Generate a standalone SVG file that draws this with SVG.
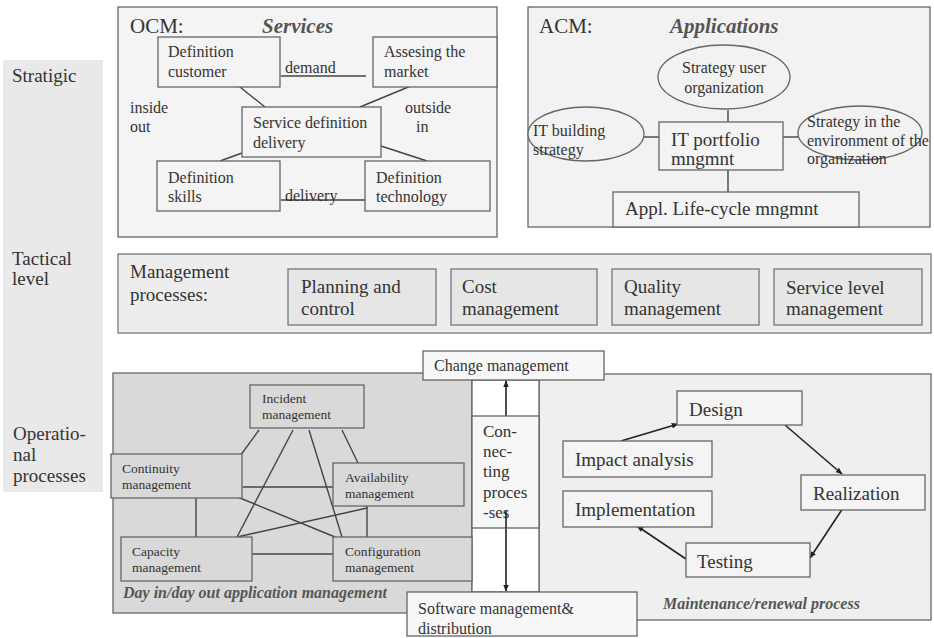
<svg xmlns="http://www.w3.org/2000/svg" width="934" height="638" viewBox="0 0 934 638">
  <defs>
    <marker id="arrow" viewBox="0 0 10 10" refX="9" refY="5" markerWidth="7" markerHeight="7" orient="auto-start-reverse" markerUnits="userSpaceOnUse">
      <path d="M0,1 L10,5 L0,9 Z" fill="#222"/>
    </marker>
    <style>
      text { fill: #333; }
      .t16 { font-size: 16px; }
      .t19 { font-size: 19px; }
      .t13 { font-size: 13.5px; }
      .t17 { font-size: 17px; }
      .title { font-size: 21px; }
      .ital { font-style: italic; font-weight: bold; fill: #555; }
      .box { fill: #f4f4f4; stroke: #666; stroke-width: 1.3; }
      .box2 { fill: #e6e6e6; stroke: #777; stroke-width: 1.3; }
      .boxd { fill: #d9d9d9; stroke: #666; stroke-width: 1.3; }
      .ell { fill: #f2f2f2; stroke: #666; stroke-width: 1.3; }
      .ln { stroke: #444; stroke-width: 1.4; fill: none; }
      .arr { stroke: #222; stroke-width: 1.6; fill: none; marker-end: url(#arrow); }
    </style>
  </defs>

  <rect width="934" height="638" fill="#ffffff"/>

  <g font-family="'Liberation Serif', 'DejaVu Serif', serif">

  <!-- level column -->
  <g id="levels">
    <rect x="3" y="60" width="100" height="432" fill="#e9e9e9"/>
    <text class="t19" x="12" y="82">Stratigic</text>
    <text class="t19" x="12" y="265">Tactical</text>
    <text class="t19" x="12" y="285">level</text>
    <text class="t19" x="13" y="440">Operatio-</text>
    <text class="t19" x="13" y="461">nal</text>
    <text class="t19" x="13" y="482">processes</text>
  </g>

  <!-- OCM frame -->
  <g id="ocm">
    <rect x="118" y="7" width="379" height="230" fill="#f4f4f4" stroke="#666" stroke-width="1.3"/>
    <text class="title" x="130" y="33">OCM:</text>
    <text class="title ital" x="262" y="33">Services</text>
    <text class="t16" x="130" y="113">inside</text>
    <text class="t16" x="130" y="132">out</text>
    <text class="t16" x="405" y="113">outside</text>
    <text class="t16" x="416" y="132">in</text>
  </g>

  <!-- ACM frame -->
  <g id="acm">
    <rect x="528" y="7" width="402" height="220" fill="#f2f2f2" stroke="#666" stroke-width="1.3"/>
    <text class="title" x="539" y="33">ACM:</text>
    <text class="title ital" x="670" y="33">Applications</text>
  </g>

  <!-- tactical frame -->
  <g id="tactical">
    <rect x="118" y="254" width="813" height="79" fill="#ededed" stroke="#777" stroke-width="1.3"/>
    <text class="t19" x="130" y="278">Management</text>
    <text class="t19" x="130" y="301">processes:</text>
  </g>

  <!-- operational frames -->
  <g id="day-in-day-out">
    <rect x="113" y="373" width="359" height="240" fill="#d9d9d9" stroke="#666" stroke-width="1.3"/>
    <text class="t16 ital" x="123" y="598">Day in/day out application management</text>
  </g>
  <g id="maintenance">
    <rect x="539" y="374" width="392" height="246" fill="#efefef" stroke="#666" stroke-width="1.3"/>
    <text class="t16 ital" x="663" y="609">Maintenance/renewal process</text>
  </g>
  <g id="connecting-strip">
    <rect x="472" y="380" width="67" height="212" fill="#ffffff" stroke="#666" stroke-width="1.3"/>
  </g>

  <!-- connectors -->
  <g id="connectors">
    <!-- OCM -->
    <line class="ln" x1="281" y1="76" x2="366" y2="76"/>
    <line class="ln" x1="235" y1="83" x2="265" y2="107"/>
    <line class="ln" x1="418" y1="83" x2="360" y2="107"/>
    <line class="ln" x1="242" y1="153" x2="220" y2="161"/>
    <line class="ln" x1="381" y1="146" x2="427" y2="161"/>
    <line class="ln" x1="281" y1="200" x2="365" y2="200"/>
    <!-- ACM -->
    <line class="ln" x1="728" y1="110" x2="728" y2="122"/>
    <line class="ln" x1="644" y1="137" x2="659" y2="137"/>
    <line class="ln" x1="783" y1="137" x2="798" y2="137"/>
    <line class="ln" x1="728" y1="170" x2="728" y2="192"/>
    <!-- day in/day out -->
    <line class="ln" x1="259" y1="430" x2="235" y2="463"/>
    <line class="ln" x1="342" y1="430" x2="358" y2="463"/>
    <line class="ln" x1="293" y1="430" x2="237" y2="537"/>
    <line class="ln" x1="309" y1="430" x2="342" y2="537"/>
    <line class="ln" x1="243" y1="487" x2="333" y2="487"/>
    <line class="ln" x1="235" y1="496" x2="335" y2="537"/>
    <line class="ln" x1="237" y1="537" x2="367" y2="508"/>
    <line class="ln" x1="196" y1="498" x2="196" y2="537"/>
    <line class="ln" x1="367" y1="506" x2="367" y2="537"/>
    <line class="ln" x1="252" y1="554" x2="333" y2="554"/>
    <!-- connecting processes -->
    <line class="arr" x1="506" y1="416" x2="506" y2="381"/>
    <line class="arr" x1="506" y1="511" x2="506" y2="591"/>
    <!-- maintenance cycle -->
    <line class="arr" x1="621" y1="441" x2="678" y2="424"/>
    <line class="arr" x1="785" y1="425" x2="842" y2="474"/>
    <line class="arr" x1="843" y1="508" x2="810" y2="558"/>
    <line class="arr" x1="686" y1="559" x2="637" y2="526"/>
  </g>

  <!-- OCM nodes -->
  <g id="definition-customer">
    <rect class="box" x="158" y="37" width="122" height="50"/>
    <text class="t16" x="168" y="57">Definition</text>
    <text class="t16" x="168" y="77">customer</text>
  </g>
  <text class="t16" x="285" y="73">demand</text>
  <g id="assesing-market">
    <rect class="box" x="373" y="37" width="124" height="50"/>
    <text class="t16" x="384" y="57">Assesing the</text>
    <text class="t16" x="384" y="77">market</text>
  </g>
  <g id="service-definition">
    <rect class="box" x="242" y="107" width="139" height="50"/>
    <text class="t16" x="253" y="128">Service definition</text>
    <text class="t16" x="253" y="148">delivery</text>
  </g>
  <g id="definition-skills">
    <rect class="box" x="157" y="161" width="123" height="50"/>
    <text class="t16" x="168" y="183">Definition</text>
    <text class="t16" x="168" y="202">skills</text>
  </g>
  <text class="t16" x="285" y="201">delivery</text>
  <g id="definition-technology">
    <rect class="box" x="365" y="161" width="125" height="50"/>
    <text class="t16" x="376" y="183">Definition</text>
    <text class="t16" x="376" y="202">technology</text>
  </g>

  <!-- ACM nodes -->
  <g id="strategy-user">
    <ellipse class="ell" cx="724" cy="77" rx="66" ry="32"/>
    <text class="t16" x="724" y="73" text-anchor="middle">Strategy user</text>
    <text class="t16" x="724" y="93" text-anchor="middle">organization</text>
  </g>
  <g id="it-building">
    <ellipse class="ell" cx="586" cy="134" rx="58" ry="27"/>
    <text class="t16" x="533" y="136">IT building</text>
    <text class="t16" x="533" y="155">strategy</text>
  </g>
  <g id="strategy-environment">
    <ellipse class="ell" cx="860" cy="133" rx="62" ry="27"/>
    <text class="t16" x="807" y="127">Strategy in the</text>
    <text class="t16" x="807" y="146">environment of the</text>
    <text class="t16" x="807" y="164">organization</text>
  </g>
  <g id="it-portfolio">
    <rect class="box" x="659" y="122" width="124" height="48"/>
    <text class="t19" x="671" y="146">IT portfolio</text>
    <text class="t19" x="671" y="165">mngmnt</text>
  </g>
  <g id="appl-lifecycle">
    <rect class="box" x="613" y="192" width="246" height="35"/>
    <text class="t19" x="625" y="215">Appl. Life-cycle mngmnt</text>
  </g>

  <!-- tactical nodes -->
  <g id="planning">
    <rect class="box2" x="288" y="269" width="148" height="56"/>
    <text class="t19" x="301" y="293">Planning and</text>
    <text class="t19" x="301" y="315">control</text>
  </g>
  <g id="cost">
    <rect class="box2" x="451" y="269" width="146" height="56"/>
    <text class="t19" x="462" y="293">Cost</text>
    <text class="t19" x="462" y="315">management</text>
  </g>
  <g id="quality">
    <rect class="box2" x="612" y="269" width="147" height="56"/>
    <text class="t19" x="624" y="293">Quality</text>
    <text class="t19" x="624" y="315">management</text>
  </g>
  <g id="service-level">
    <rect class="box2" x="774" y="269" width="148" height="56"/>
    <text class="t19" x="786" y="294">Service level</text>
    <text class="t19" x="786" y="315">management</text>
  </g>

  <!-- day in/day out nodes -->
  <g id="incident">
    <rect class="boxd" x="250" y="385" width="114" height="43"/>
    <text class="t13" x="262" y="403">Incident</text>
    <text class="t13" x="262" y="419">management</text>
  </g>
  <g id="continuity">
    <rect class="boxd" x="111" y="454" width="131" height="44"/>
    <text class="t13" x="122" y="473">Continuity</text>
    <text class="t13" x="122" y="489">management</text>
  </g>
  <g id="availability">
    <rect class="boxd" x="333" y="463" width="131" height="43"/>
    <text class="t13" x="345" y="482">Availability</text>
    <text class="t13" x="345" y="498">management</text>
  </g>
  <g id="capacity">
    <rect class="boxd" x="121" y="537" width="131" height="44"/>
    <text class="t13" x="132" y="556">Capacity</text>
    <text class="t13" x="132" y="572">management</text>
  </g>
  <g id="configuration">
    <rect class="boxd" x="333" y="537" width="139" height="44"/>
    <text class="t13" x="345" y="556">Configuration</text>
    <text class="t13" x="345" y="572">management</text>
  </g>

  <!-- connecting processes -->
  <g id="change-management">
    <rect x="423" y="351" width="181" height="29" fill="#f7f7f7" stroke="#666" stroke-width="1.3"/>
    <text class="t16" x="434" y="371">Change management</text>
  </g>
  <g id="connecting-processes">
    <rect x="472" y="416" width="67" height="112" fill="#f7f7f7" stroke="#666" stroke-width="1.3"/>
    <text class="t17" x="483" y="437">Con-</text>
    <text class="t17" x="483" y="457">nec-</text>
    <text class="t17" x="483" y="477">ting</text>
    <text class="t17" x="483" y="498">proces</text>
    <text class="t17" x="483" y="518">-ses</text>
    <line x1="506" y1="511" x2="506" y2="528" stroke="#222" stroke-width="1.6"/>
  </g>
  <g id="software-management">
    <rect x="407" y="592" width="230" height="44" fill="#f7f7f7" stroke="#666" stroke-width="1.3"/>
    <text class="t16" x="418" y="614">Software management&amp;</text>
    <text class="t16" x="418" y="634">distribution</text>
  </g>

  <!-- maintenance nodes -->
  <g id="design">
    <rect class="box" x="677" y="391" width="125" height="34"/>
    <text class="t19" x="689" y="416">Design</text>
  </g>
  <g id="impact-analysis">
    <rect class="box" x="563" y="441" width="149" height="36"/>
    <text class="t19" x="575" y="466">Impact analysis</text>
  </g>
  <g id="implementation">
    <rect class="box" x="563" y="491" width="149" height="36"/>
    <text class="t19" x="575" y="516">Implementation</text>
  </g>
  <g id="realization">
    <rect class="box" x="801" y="475" width="124" height="35"/>
    <text class="t19" x="813" y="500">Realization</text>
  </g>
  <g id="testing">
    <rect class="box" x="686" y="543" width="124" height="34"/>
    <text class="t19" x="697" y="568">Testing</text>
  </g>

  </g>
</svg>
